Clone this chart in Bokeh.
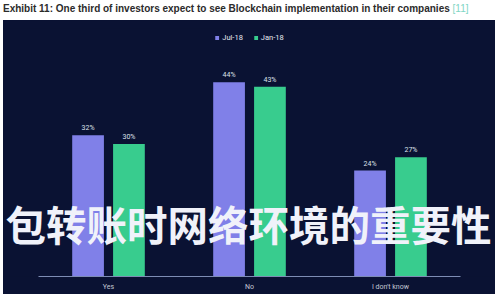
from bokeh.plotting import figure
from bokeh.models import FactorRange, ColumnDataSource, Range1d, Legend, LegendItem, Label, Div
from bokeh.transform import dodge
from bokeh.layouts import column
from bokeh.embed import file_html
from bokeh.resources import INLINE
from bokeh.core.properties import value

categories = ["Yes", "No", "I don't know"]
series = ["Jul-18", "Jan-18"]
jul18 = [32, 44, 24]
jan18 = [30, 43, 27]
title_text = "Exhibit 11: One third of investors expect to see Blockchain implementation in their companies"
ref_text = "[11]"
overlay_text = "包转账时网络环境的重要性"

NAVY = "#0a1233"
PURPLE = "#8080e8"
GREEN = "#38cc8e"

src = ColumnDataSource(dict(
    cat=categories,
    jul=jul18,
    jan=jan18,
    jul_lbl=[f"{v}%" for v in jul18],
    jan_lbl=[f"{v}%" for v in jan18],
))

p = figure(
    x_range=FactorRange(*categories, range_padding=0.2447, range_padding_units="absolute"),
    y_range=Range1d(0, 56.2),
    width=492, height=274,
    output_backend="svg", toolbar_location=None,
    min_border_left=0, min_border_right=0, min_border_top=8, min_border_bottom=18,
    background_fill_color=NAVY, border_fill_color=NAVY,
)
p.outline_line_color = None
p.margin = (0, 5, 6, 3)
p.styles = {"background-color": NAVY}

off = 0.145
bw = 0.225
r1 = p.vbar(x=dodge("cat", -off, range=p.x_range), top="jul", width=bw, source=src,
            fill_color=PURPLE, line_color=None)
r2 = p.vbar(x=dodge("cat", off, range=p.x_range), top="jan", width=bw, source=src,
            fill_color=GREEN, line_color=None)

for col, lbl, o in (("jul", "jul_lbl", -off), ("jan", "jan_lbl", off)):
    p.text(x=dodge("cat", o, range=p.x_range), y=col, text=lbl, source=src,
           text_align="center", text_baseline="bottom", y_offset=-3,
           text_font_size="7px", text_color="#dde0ea", text_font=value("Roboto"))

legend = Legend(items=[LegendItem(label=series[0], renderers=[r1]),
                       LegendItem(label=series[1], renderers=[r2])],
                location="top_center", orientation="horizontal",
                margin=4, padding=2, spacing=10,
                label_text_font_size="7.5px", label_text_color="#e6e8f0",
                label_text_font="Roboto", label_height=10, label_standoff=3,
                glyph_height=5, glyph_width=5,
                background_fill_alpha=0, border_line_color=None)
p.add_layout(legend)

p.yaxis.visible = False
p.xgrid.grid_line_color = None
p.ygrid.grid_line_color = None
p.xaxis.bounds = (0, len(categories))
p.xaxis.axis_line_color = "#7d8cb4"
p.xaxis.axis_line_width = 1
p.xaxis.major_tick_line_color = None
p.xaxis.minor_tick_line_color = None
p.xaxis.major_label_text_color = "#c4c8d4"
p.xaxis.major_label_text_font_size = "7px"
p.xaxis.major_label_text_font = "Roboto"
p.xaxis.major_label_standoff = 0

p.add_layout(Label(x=2, y=53, x_units="screen", y_units="screen", text=overlay_text,
                   text_font="Noto Sans CJK SC", text_font_style="bold",
                   text_font_size="40.5px", text_color="#f0f2fa",
                   text_baseline="middle", text_align="left"))

div = Div(
    text=(f'<div style="font-family:\'Liberation Sans\',Arial,sans-serif;font-weight:bold;'
          f'font-size:10px;color:#2b2b2b;padding:2px 0 0 3px;white-space:nowrap;line-height:11px">'
          f'{title_text} <span style="color:#7fd6c4;font-weight:normal">{ref_text}</span></div>'),
    width=500, height=20, margin=0,
)

layout = column(div, p, margin=0, spacing=0)

open("out.html", "w").write(file_html(layout, INLINE))
